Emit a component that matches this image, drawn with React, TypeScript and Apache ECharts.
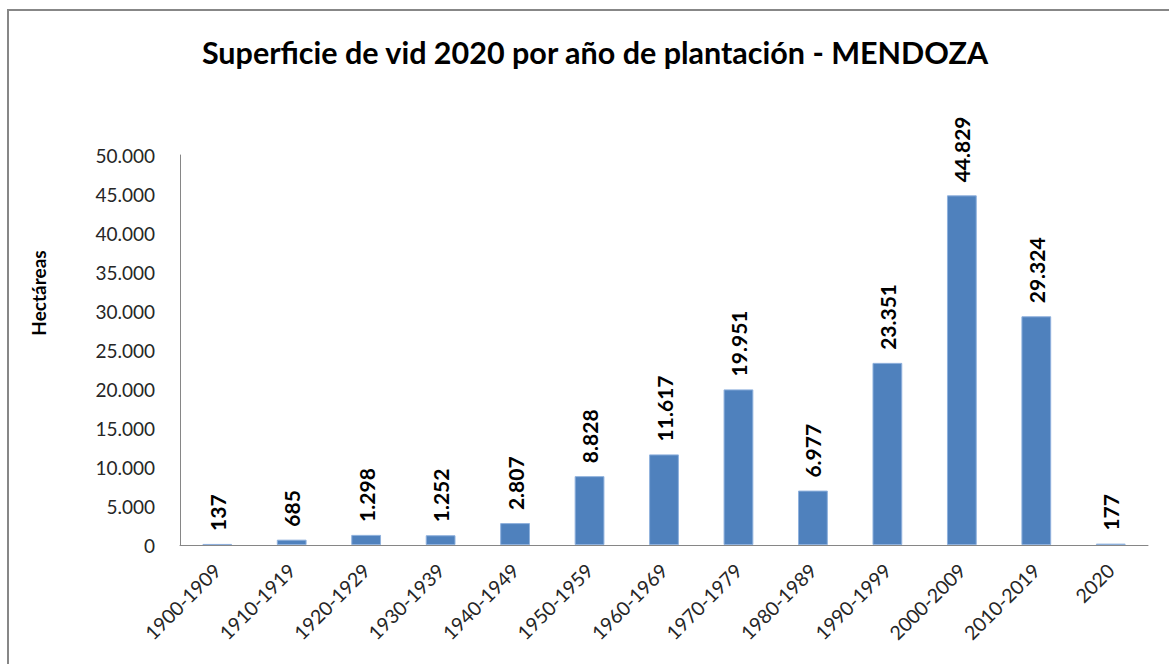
import React, { useEffect, useRef } from "react";
import * as echarts from "echarts";

const categories = [
  "1900-1909", "1910-1919", "1920-1929", "1930-1939", "1940-1949", "1950-1959",
  "1960-1969", "1970-1979", "1980-1989", "1990-1999", "2000-2009", "2010-2019", "2020",
];
const hectareas = [137, 685, 1298, 1252, 2807, 8828, 11617, 19951, 6977, 23351, 44829, 29324, 177];
const titleText = "Superficie de vid 2020 por año de plantación - MENDOZA";
const yAxisName = "Hectáreas";

const fmt = (v: number) => String(Math.round(v)).replace(/\B(?=(\d{3})+(?!\d))/g, ".");

export default function App() {
  const ref = useRef<HTMLDivElement>(null);
  useEffect(() => {
    if (!ref.current) return;
    const chart = echarts.init(ref.current, null, { renderer: "svg" });
    const font = "Lato, 'Open Sans', sans-serif";
    chart.setOption({
      animation: false,
      backgroundColor: "#ffffff",
      textStyle: { fontFamily: font },
      title: {
        text: titleText,
        left: 590,
        textAlign: "center",
        top: 31,
        textStyle: { fontFamily: font, fontSize: 30.5, fontWeight: "bold", color: "#000" },
      },
      graphic: [
        {
          type: "rect",
          shape: { x: 8, y: 10, width: 1200, height: 700 },
          style: { fill: "none", stroke: "#878787", lineWidth: 2 },
          silent: true,
        },
        {
          type: "text",
          x: 38,
          y: 293,
          rotation: Math.PI / 2,
          style: {
            text: yAxisName,
            fontFamily: font,
            fontSize: 19,
            fontWeight: "bold",
            fill: "#000",
            align: "center",
            verticalAlign: "middle",
          },
        },
      ],
      grid: { left: 180, right: 21, top: 155, bottom: 119, containLabel: false },
      xAxis: {
        type: "category",
        data: categories,
        axisLine: { show: true, lineStyle: { color: "#868686", width: 1 } },
        axisTick: { show: false },
        axisLabel: {
          rotate: 45,
          margin: 22,
          interval: 0,
          fontFamily: font,
          fontSize: 19.5,
          color: "#262626",
        },
      },
      yAxis: {
        type: "value",
        min: 0,
        max: 50000,
        interval: 5000,
        axisLine: { show: true, lineStyle: { color: "#868686", width: 1 } },
        axisTick: { show: false },
        splitLine: { show: false },
        axisLabel: {
          margin: 25,
          fontFamily: font,
          fontSize: 19,
          color: "#262626",
          formatter: (v: number) => fmt(v),
        },
      },
      series: [
        {
          type: "bar",
          data: hectareas,
          barWidth: "40%",
          itemStyle: { color: "#4F81BD", borderColor: "#8FB1DD", borderWidth: 1 },
          label: {
            show: true,
            position: "top",
            rotate: 90,
            align: "left",
            verticalAlign: "middle",
            distance: 13,
            fontFamily: font,
            fontSize: 21,
            fontWeight: "bold",
            color: "#000",
            formatter: (p: any) => fmt(p.value),
          },
        },
      ],
    });
    return () => chart.dispose();
  }, []);
  return (
    <div
      ref={ref}
      style={{ position: "fixed", left: 0, top: 0, width: 1169, height: 664, background: "#fff" }}
    />
  );
}
